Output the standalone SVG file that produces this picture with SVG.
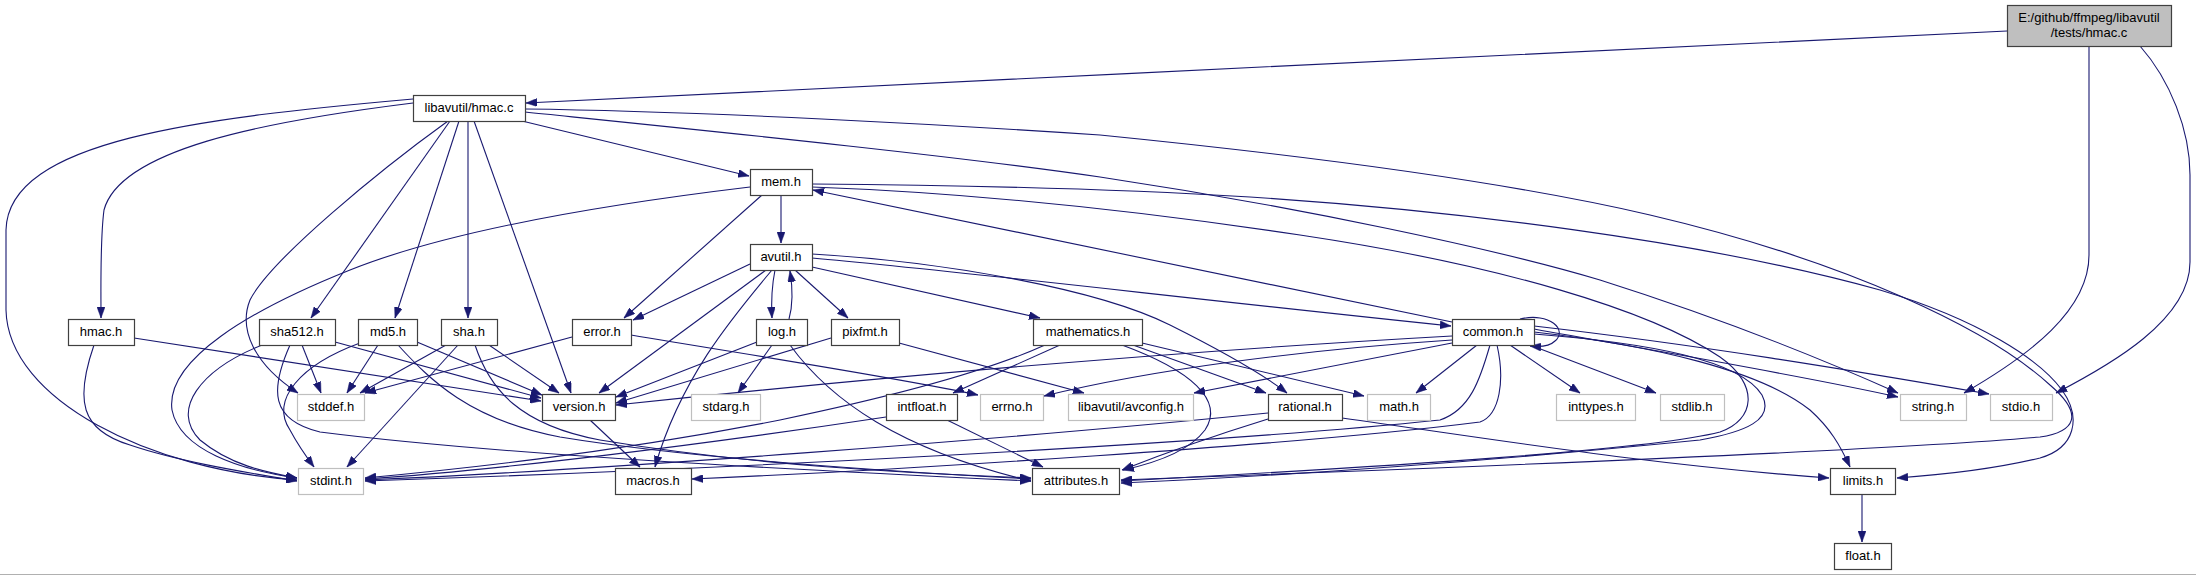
<svg xmlns="http://www.w3.org/2000/svg" width="2196" height="575" viewBox="0 0 2196 575">
<style>
.n rect{fill:#fff;stroke:#404040;stroke-width:1.2}
.u rect{fill:#fff;stroke:#bfbfbf;stroke-width:1.2}
.m rect{fill:#bfbfbf;stroke:#404040;stroke-width:1.2}
text{font-family:"Liberation Sans",Arial,Helvetica,sans-serif;font-size:13px;text-anchor:middle;fill:#000}
#edges path{fill:none;stroke:#191970;stroke-width:1.1;marker-end:url(#a)}
</style>
<defs>
<marker id="a" markerUnits="userSpaceOnUse" markerWidth="11" markerHeight="8" viewBox="0 0 11 8" refX="11" refY="4" orient="auto">
<path d="M0,0 L11,4 L0,8 z" fill="#191970" stroke="#191970" stroke-width="0.5"/>
</marker>
</defs>
<rect x="0" y="0" width="2196" height="575" fill="#fff"/>
<line x1="0" y1="574.5" x2="2196" y2="574.5" stroke="#b0b0b0"/>
<g id="edges">
<path d="M2007,31 C1600,50 1000,80 526,103"/>
<path d="M2089,46 L2089,255 C2089,310 2030,355 1964,393"/>
<path d="M2140,46 C2170,80 2190,130 2190,175 L2190,262 C2190,320 2110,365 2056,393"/>
<path d="M522,121 L749,176"/>
<path d="M413,103 C260,122 120,150 104,210 C100,240 101,290 101,318"/>
<path d="M413,99 C200,118 8,140 6,230 L6,310 C8,400 150,470 297,480"/>
<path d="M448,121 C380,170 270,260 250,300 C238,330 255,365 298,393"/>
<path d="M450,121 L311,318"/>
<path d="M459,121 L395,318"/>
<path d="M468,121 L468,318"/>
<path d="M474,121 L571,393"/>
<path d="M525,112 C700,130 950,155 1100,177 C1300,207 1500,250 1600,280 C1720,318 1820,358 1898,393"/>
<path d="M525,109 C700,111 950,125 1100,135 C1300,155 1500,180 1650,215 C1850,262 1990,330 2050,385 C2085,415 2075,432 2040,437 C1900,450 1500,466 1121,480"/>
<path d="M812,184 C950,185 1100,188 1250,197 C1450,210 1700,240 1880,290 C1980,320 2040,360 2062,390 C2082,418 2075,448 2040,458 C1990,470 1940,475 1897,478"/>
<path d="M812,187 C950,192 1100,205 1300,235 C1500,265 1650,310 1720,357 C1760,385 1755,420 1720,432 C1650,450 1400,466 1121,481"/>
<path d="M750,187 C600,205 450,230 350,270 C250,310 165,360 172,410 C180,450 240,470 297,478"/>
<path d="M781,195 L781,243"/>
<path d="M762,195 L624,318"/>
<path d="M750,264 L633,320"/>
<path d="M766,270 L599,393"/>
<path d="M772,270 C730,320 680,380 655,467"/>
<path d="M775,270 C772,285 771,300 772,318"/>
<path d="M789,319 C793,305 793,290 790,271"/>
<path d="M795,270 L848,318"/>
<path d="M812,267 L1040,318"/>
<path d="M812,258 C950,270 1200,300 1451,326"/>
<path d="M812,254 C950,262 1100,290 1170,325 C1220,350 1260,372 1287,393"/>
<path d="M772,345 L738,393"/>
<path d="M757,342 L616,397"/>
<path d="M790,345 C830,400 900,450 1031,481"/>
<path d="M831,338 L616,403"/>
<path d="M899,343 L1084,393"/>
<path d="M572,337 L365,393"/>
<path d="M631,335 C750,355 900,378 978,395"/>
<path d="M1060,345 L953,393"/>
<path d="M1045,345 C990,370 900,395 780,420 C600,455 450,470 365,478"/>
<path d="M1133,345 L1266,393"/>
<path d="M1142,343 L1364,396"/>
<path d="M1122,345 C1190,370 1225,400 1205,430 C1190,450 1160,462 1123,470"/>
<path d="M886,417 C700,445 500,470 365,479"/>
<path d="M947,420 L1043,467"/>
<path d="M1268,413 C1000,440 600,470 365,480"/>
<path d="M1268,419 C1200,440 1160,455 1122,470"/>
<path d="M1342,418 C1500,440 1650,465 1829,478"/>
<path d="M590,420 L640,467"/>
<path d="M134,338 L541,401"/>
<path d="M94,345 C75,400 80,430 130,445 C180,462 250,473 297,481"/>
<path d="M302,345 L321,393"/>
<path d="M262,345 C200,370 170,410 200,440 C230,465 265,472 297,478"/>
<path d="M335,342 L541,398"/>
<path d="M290,345 C270,390 270,420 320,432 C500,455 800,470 1031,481"/>
<path d="M378,345 L347,393"/>
<path d="M360,343 C300,365 270,400 290,430 C298,445 305,455 314,467"/>
<path d="M417,342 L542,395"/>
<path d="M398,345 C430,380 470,420 560,437 C700,460 900,472 1031,479"/>
<path d="M446,345 L360,393"/>
<path d="M458,345 L347,467"/>
<path d="M486,343 L559,393"/>
<path d="M475,345 C490,390 520,425 600,440 C750,465 900,473 1031,478"/>
<path d="M1452,322 L813,190"/>
<path d="M1452,336 C1200,350 900,375 616,405"/>
<path d="M1452,340 C1300,350 1150,370 1044,396"/>
<path d="M1452,343 L1194,393"/>
<path d="M1477,345 L1416,393"/>
<path d="M1510,345 L1580,393"/>
<path d="M1530,345 L1656,393"/>
<path d="M1490,345 C1480,380 1470,410 1440,420 C1200,445 700,470 365,481"/>
<path d="M1497,345 C1505,380 1500,415 1480,422 C1300,445 900,470 692,479"/>
<path d="M1520,319 C1550,312 1568,330 1555,341 C1550,346 1540,347 1530,346"/>
<path d="M1534,329 C1650,350 1800,375 1898,397"/>
<path d="M1534,326 C1700,345 1850,370 1989,394"/>
<path d="M1534,332 C1650,345 1760,370 1810,410 C1830,428 1840,445 1850,467"/>
<path d="M1534,334 C1650,343 1740,360 1762,395 C1775,420 1745,432 1700,440 C1500,460 1300,475 1121,483"/>
<path d="M1862,494 L1862,542"/>
</g>
<g id="main" class="m"><rect x="2007.5" y="5.5" width="164" height="41"/><text x="2089" y="22">E:/github/ffmpeg/libavutil</text><text x="2089" y="37">/tests/hmac.c</text></g>
<g id="hmac_c" class="n"><rect x="413.5" y="95.5" width="112" height="26"/><text x="469" y="112">libavutil/hmac.c</text></g>
<g id="mem_h" class="n"><rect x="750.5" y="169.5" width="62" height="26"/><text x="781" y="186">mem.h</text></g>
<g id="avutil_h" class="n"><rect x="750.5" y="244.5" width="62" height="26"/><text x="781" y="261">avutil.h</text></g>
<g id="hmac_h" class="n"><rect x="68.5" y="319.5" width="66" height="26"/><text x="101" y="336">hmac.h</text></g>
<g id="sha512_h" class="n"><rect x="259.5" y="319.5" width="76" height="26"/><text x="297" y="336">sha512.h</text></g>
<g id="md5_h" class="n"><rect x="358.5" y="319.5" width="59" height="26"/><text x="388" y="336">md5.h</text></g>
<g id="sha_h" class="n"><rect x="441.5" y="319.5" width="56" height="26"/><text x="469" y="336">sha.h</text></g>
<g id="error_h" class="n"><rect x="572.5" y="319.5" width="59" height="26"/><text x="602" y="336">error.h</text></g>
<g id="log_h" class="n"><rect x="756.5" y="319.5" width="51" height="26"/><text x="782" y="336">log.h</text></g>
<g id="pixfmt_h" class="n"><rect x="831.5" y="319.5" width="68" height="26"/><text x="865" y="336">pixfmt.h</text></g>
<g id="mathematics_h" class="n"><rect x="1033.5" y="319.5" width="109" height="26"/><text x="1088" y="336">mathematics.h</text></g>
<g id="common_h" class="n"><rect x="1452.5" y="319.5" width="82" height="26"/><text x="1493" y="336">common.h</text></g>
<g id="stddef_h" class="u"><rect x="297.5" y="394.5" width="67" height="26"/><text x="331" y="411">stddef.h</text></g>
<g id="version_h" class="n"><rect x="542.5" y="394.5" width="73" height="26"/><text x="579" y="411">version.h</text></g>
<g id="stdarg_h" class="u"><rect x="691.5" y="394.5" width="69" height="26"/><text x="726" y="411">stdarg.h</text></g>
<g id="intfloat_h" class="n"><rect x="886.5" y="394.5" width="71" height="26"/><text x="922" y="411">intfloat.h</text></g>
<g id="errno_h" class="u"><rect x="980.5" y="394.5" width="63" height="26"/><text x="1012" y="411">errno.h</text></g>
<g id="avconfig_h" class="u"><rect x="1068.5" y="394.5" width="125" height="26"/><text x="1131" y="411">libavutil/avconfig.h</text></g>
<g id="rational_h" class="n"><rect x="1268.5" y="394.5" width="74" height="26"/><text x="1305" y="411">rational.h</text></g>
<g id="math_h" class="u"><rect x="1367.5" y="394.5" width="63" height="26"/><text x="1399" y="411">math.h</text></g>
<g id="inttypes_h" class="u"><rect x="1556.5" y="394.5" width="79" height="26"/><text x="1596" y="411">inttypes.h</text></g>
<g id="stdlib_h" class="u"><rect x="1660.5" y="394.5" width="64" height="26"/><text x="1692" y="411">stdlib.h</text></g>
<g id="string_h" class="u"><rect x="1900.5" y="394.5" width="66" height="26"/><text x="1933" y="411">string.h</text></g>
<g id="stdio_h" class="u"><rect x="1990.5" y="394.5" width="62" height="26"/><text x="2021" y="411">stdio.h</text></g>
<g id="stdint_h" class="u"><rect x="298.5" y="468.5" width="65" height="26"/><text x="331" y="485">stdint.h</text></g>
<g id="macros_h" class="n"><rect x="615.5" y="468.5" width="76" height="26"/><text x="653" y="485">macros.h</text></g>
<g id="attributes_h" class="n"><rect x="1032.5" y="468.5" width="87" height="26"/><text x="1076" y="485">attributes.h</text></g>
<g id="limits_h" class="n"><rect x="1830.5" y="468.5" width="65" height="26"/><text x="1863" y="485">limits.h</text></g>
<g id="float_h" class="n"><rect x="1834.5" y="543.5" width="57" height="26"/><text x="1863" y="560">float.h</text></g>
</svg>
